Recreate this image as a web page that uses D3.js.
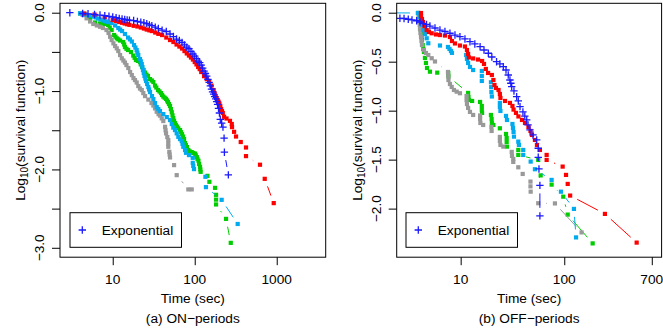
<!DOCTYPE html>
<html>
<head>
<meta charset="utf-8">
<script src="https://cdn.jsdelivr.net/npm/d3@7"></script>
<style>
  body { margin: 0; background: #fff; }
  text { font-family: "Liberation Sans", Arial, sans-serif; }
</style>
</head>
<body>
<script>

// (a) ON-periods
var onBlue = [[3,0],[4.3,-0.01],[5,-0.014],[6,-0.022],[7,-0.03],[8,-0.038],[9,-0.046],[10,-0.055],[11,-0.064],[12,-0.073],[13,-0.08],[14,-0.087],[15,-0.092],[16,-0.096],[18,-0.10],[20,-0.112],[22,-0.121],[24,-0.129],[26,-0.14],[28,-0.155],[30,-0.166],[33,-0.184],[36,-0.202],[40,-0.222],[45,-0.24],[50,-0.272],[55,-0.304],[60,-0.336],[65,-0.355],[70,-0.38],[75,-0.41],[80,-0.44],[85,-0.46],[90,-0.495],[95,-0.527],[100,-0.553],[105,-0.585],[110,-0.617],[115,-0.636],[120,-0.668],[125,-0.706],[130,-0.745],[135,-0.776],[140,-0.81],[145,-0.85],[150,-0.89],[155,-0.935],[160,-0.975],[165,-1.01],[170,-1.04],[175,-1.07],[180,-1.10],[185,-1.135],[190,-1.17],[195,-1.22],[200,-1.28],[205,-1.36],[213,-1.41],[221,-1.46],[228,-1.60],[230,-1.78],[257,-2.07]];
var onRed = [[4.5,-0.01],[6,-0.023],[8,-0.055],[10,-0.093],[11,-0.106],[12,-0.119],[13,-0.128],[14,-0.138],[15,-0.147],[16,-0.155],[18,-0.167],[20,-0.176],[22,-0.189],[24,-0.202],[26,-0.215],[28,-0.225],[30,-0.234],[33,-0.253],[36,-0.27],[40,-0.285],[45,-0.317],[50,-0.349],[55,-0.374],[60,-0.406],[65,-0.432],[70,-0.457],[75,-0.49],[80,-0.52],[85,-0.547],[90,-0.572],[95,-0.598],[100,-0.63],[105,-0.66],[110,-0.693],[115,-0.72],[120,-0.757],[130,-0.81],[140,-0.847],[150,-0.885],[160,-0.93],[170,-0.987],[175,-1.03],[180,-1.064],[185,-1.09],[190,-1.115],[195,-1.135],[200,-1.157],[205,-1.19],[210,-1.23],[215,-1.255],[220,-1.28],[228,-1.328],[244,-1.35],[269,-1.38],[283,-1.42],[285,-1.46],[302,-1.52],[319,-1.58],[364,-1.65],[422,-1.72],[422,-1.83],[625,-1.94],[714,-2.12],[919,-2.43]];
var onGreen = [[4.0,-0.01],[4.6,-0.029],[5.3,-0.074],[6.1,-0.125],[7.0,-0.138],[7.5,-0.14],[8.1,-0.144],[8.8,-0.157],[9.2,-0.19],[9.7,-0.221],[10.4,-0.285],[10.8,-0.305],[11.2,-0.327],[11.7,-0.34],[12.3,-0.355],[13.4,-0.374],[13.8,-0.405],[14.1,-0.438],[14.7,-0.46],[15.4,-0.476],[16.7,-0.502],[17.8,-0.547],[18.5,-0.575],[19.2,-0.604],[20.3,-0.615],[21.5,-0.63],[22,-0.66],[22.8,-0.693],[23.8,-0.73],[24.8,-0.764],[25.8,-0.79],[26.9,-0.808],[28.5,-0.847],[30,-0.865],[31.3,-0.885],[32.8,-0.93],[34,-0.955],[35.7,-0.987],[37.2,-1.005],[38.8,-1.026],[40,-1.05],[41.4,-1.07],[43,-1.085],[44.7,-1.10],[46,-1.12],[47.2,-1.14],[48.5,-1.165],[50.0,-1.19],[51.2,-1.23],[52.5,-1.27],[53.6,-1.31],[54.8,-1.345],[56,-1.38],[57.5,-1.41],[59,-1.435],[60.8,-1.453],[63,-1.475],[66.2,-1.498],[68,-1.525],[70.0,-1.55],[72,-1.58],[74.1,-1.613],[76.2,-1.664],[78,-1.69],[80.5,-1.715],[83.6,-1.753],[87,-1.77],[91.9,-1.779],[96,-1.79],[101,-1.798],[103,-1.82],[106,-1.843],[108,-1.865],[111,-1.888],[113,-1.93],[116,-1.967],[117,-2.0],[118,-2.031],[143,-2.082],[151,-2.158],[177,-2.235],[182,-2.324],[182,-2.385],[182,-2.447],[241,-2.631],[275,-2.937]];
var onCyan = [[4.0,-0.008],[4.35,-0.015],[4.7,-0.023],[5.2,-0.035],[5.8,-0.049],[6.2,-0.06],[6.6,-0.074],[7.1,-0.087],[7.7,-0.10],[8.2,-0.11],[8.8,-0.119],[9.7,-0.132],[10.7,-0.163],[11.7,-0.195],[12.3,-0.215],[13.0,-0.234],[14.1,-0.272],[15.4,-0.317],[16.2,-0.34],[17.1,-0.368],[18.2,-0.413],[18.9,-0.445],[19.6,-0.476],[20,-0.51],[20.5,-0.54],[21.5,-0.591],[22,-0.62],[22.6,-0.655],[23,-0.695],[23.4,-0.732],[23.9,-0.77],[24.4,-0.808],[25,-0.84],[25.5,-0.872],[26.3,-0.91],[27.2,-0.949],[27.8,-0.98],[28.5,-1.013],[30.1,-1.064],[31.3,-1.102],[32.8,-1.153],[34.4,-1.204],[36,-1.23],[37.7,-1.255],[41.4,-1.294],[45.6,-1.332],[50.0,-1.37],[52.5,-1.421],[54.8,-1.466],[57.5,-1.498],[60.3,-1.54],[63.1,-1.584],[66.2,-1.613],[69.4,-1.639],[71,-1.675],[72.6,-1.711],[76.2,-1.753],[78.3,-1.788],[85.1,-1.817],[94.6,-1.852],[94.6,-1.916],[96,-1.955],[98.0,-1.996],[135,-2.094],[137,-2.226],[213,-2.388],[334,-2.696]];
var onGray = [[4.0,-0.008],[4.3,-0.029],[4.8,-0.072],[5.3,-0.112],[5.8,-0.144],[6.4,-0.163],[7.0,-0.179],[7.6,-0.195],[8.4,-0.221],[8.9,-0.259],[9.3,-0.307],[9.7,-0.349],[10.2,-0.391],[10.7,-0.425],[11.2,-0.455],[11.7,-0.489],[12.3,-0.54],[12.9,-0.582],[13.5,-0.61],[14.1,-0.636],[14.7,-0.668],[15.5,-0.706],[16.3,-0.757],[17.1,-0.796],[17.9,-0.834],[18.7,-0.86],[19.6,-0.891],[20.5,-0.936],[21.5,-0.968],[22.6,-0.987],[23.6,-1.026],[24.8,-1.064],[27.2,-1.109],[29.7,-1.153],[31.3,-1.185],[32.8,-1.221],[34.4,-1.264],[36.2,-1.294],[37.7,-1.313],[39.6,-1.349],[41.4,-1.383],[43.5,-1.456],[44.1,-1.50],[44.7,-1.54],[46.3,-1.587],[47.6,-1.626],[47.6,-1.67],[47.6,-1.711],[49.0,-1.775],[49.5,-1.81],[50.0,-1.847],[56.0,-1.945],[60.3,-2.073],[83.6,-2.255],[91.9,-2.255]];

// (b) OFF-periods
var offBlue = [[2.59,-0.057],[2.84,-0.059],[3.12,-0.067],[3.39,-0.074],[3.76,-0.082],[4.05,-0.095],[4.35,-0.108],[4.68,-0.12],[5.05,-0.136],[5.65,-0.156],[6.31,-0.177],[7.05,-0.192],[7.88,-0.21],[8.81,-0.228],[9.84,-0.245],[11.0,-0.268],[12.3,-0.296],[13.7,-0.319],[15.4,-0.347],[16.8,-0.381],[18.5,-0.414],[20.0,-0.452],[22.2,-0.50],[23.9,-0.523],[25.8,-0.551],[27.4,-0.585],[28.8,-0.636],[29.9,-0.687],[30.5,-0.72],[31.1,-0.755],[32.7,-0.799],[34.7,-0.857],[36.0,-0.901],[37.4,-0.959],[39.9,-1.013],[41.6,-1.055],[43.4,-1.095],[44.7,-1.146],[46.7,-1.197],[49.9,-1.248],[54.2,-1.299],[56.1,-1.384],[56.1,-1.476],[57.0,-1.595],[58.2,-1.763],[58.2,-2.074]];
var offRed = [[4.14,-0.003],[4.14,-0.034],[4.23,-0.064],[4.32,-0.095],[4.47,-0.136],[4.70,-0.177],[4.94,-0.197],[5.25,-0.21],[5.78,-0.222],[6.31,-0.228],[7.05,-0.233],[7.88,-0.248],[8.24,-0.289],[8.81,-0.314],[9.84,-0.335],[11.0,-0.345],[11.5,-0.381],[11.8,-0.421],[12.0,-0.457],[13.2,-0.467],[14.7,-0.478],[16.1,-0.493],[16.8,-0.523],[17.5,-0.574],[18.4,-0.615],[20.0,-0.636],[20.7,-0.687],[21.2,-0.738],[21.9,-0.768],[23.2,-0.789],[23.9,-0.83],[24.2,-0.87],[26.8,-0.901],[29.9,-0.921],[31.6,-0.952],[32.4,-0.989],[34.2,-1.023],[36.1,-1.059],[39.1,-1.095],[41.8,-1.126],[45.1,-1.166],[47.2,-1.207],[48.8,-1.248],[52.1,-1.299],[54.5,-1.35],[58.2,-1.401],[67.6,-1.452],[67.6,-1.503],[96.5,-1.571],[104,-1.656],[108,-1.748],[114,-1.867],[247,-2.054],[500,-2.347]];
var offGreen = [[3.87,-0.003],[3.95,-0.05],[4.0,-0.09],[4.05,-0.126],[4.1,-0.17],[4.15,-0.21],[4.2,-0.25],[4.23,-0.279],[4.3,-0.33],[4.36,-0.37],[4.42,-0.401],[4.52,-0.462],[4.62,-0.513],[4.73,-0.564],[5.05,-0.602],[5.94,-0.612],[7.59,-0.615],[7.62,-0.651],[11.8,-0.819],[11.9,-0.86],[12.0,-0.891],[12.9,-0.901],[15.4,-0.911],[16.0,-0.952],[16.0,-0.993],[16.1,-1.023],[19.6,-1.044],[19.9,-1.085],[20.0,-1.126],[20.7,-1.146],[23.9,-1.18],[27.4,-1.238],[27.8,-1.279],[27.8,-1.319],[28.0,-1.367],[36.0,-1.401],[36.0,-1.452],[56.1,-1.503],[59.2,-1.661],[75.5,-1.755],[97.8,-1.878],[108,-2.061],[188,-2.355]];
var offCyan = [[1.0,0],[3.87,-0.003],[4.05,-0.044],[4.14,-0.085],[4.23,-0.126],[4.38,-0.177],[4.52,-0.217],[4.70,-0.261],[4.87,-0.312],[6.31,-0.335],[7.54,-0.35],[7.80,-0.37],[8.06,-0.39],[8.24,-0.41],[11.3,-0.432],[11.5,-0.472],[11.8,-0.513],[12.3,-0.554],[13.2,-0.585],[16.0,-0.595],[16.0,-0.646],[16.0,-0.697],[19.6,-0.71],[19.7,-0.76],[19.8,-0.81],[20.0,-0.855],[23.9,-0.921],[23.9,-0.962],[24.2,-1.003],[27.4,-1.054],[28.0,-1.095],[31.6,-1.136],[32.0,-1.176],[32.4,-1.217],[32.7,-1.265],[36.0,-1.316],[36.5,-1.35],[40.2,-1.401],[40.2,-1.452],[47.4,-1.52],[52.1,-1.598],[75.5,-1.707],[92.9,-1.827],[124,-2.003],[130,-2.294]];
var offGray = [[3.90,-0.003],[3.94,-0.044],[3.99,-0.085],[4.03,-0.126],[4.05,-0.166],[4.09,-0.207],[4.14,-0.248],[4.19,-0.289],[4.23,-0.33],[4.42,-0.381],[4.62,-0.411],[4.87,-0.432],[5.25,-0.465],[5.65,-0.498],[7.54,-0.605],[7.59,-0.646],[7.62,-0.687],[7.88,-0.728],[8.19,-0.758],[8.61,-0.789],[9.15,-0.806],[9.84,-0.822],[11.4,-0.85],[11.4,-0.891],[11.5,-0.932],[11.8,-0.972],[12.3,-1.013],[13.2,-1.044],[15.4,-1.049],[15.4,-1.085],[15.5,-1.126],[16.5,-1.146],[19.8,-1.166],[19.9,-1.207],[23.9,-1.268],[23.9,-1.309],[24.2,-1.35],[25.8,-1.367],[31.1,-1.421],[31.3,-1.462],[32.2,-1.493],[32.2,-1.523],[36.0,-1.578],[39.7,-1.646],[47.2,-1.724],[47.2,-1.773],[47.4,-1.827],[56.1,-1.945],[81.3,-1.947],[147,-2.243]];

var onTicksX = [10, 100, 1000];
var offTicksX = [10, 100, 700];
var onTicksY = [0, -0.5, -1, -1.5, -2, -2.5, -3];
var onLabelsY = [0, -1, -2, -3];
var offTicksY = [0, -0.5, -1, -1.5, -2];
var offLabelsY = [0, -0.5, -1, -1.5, -2];

var width = 663, height = 336;
var fs = 13.7;
var gap = 8;   // type="b" gap around each point

var svg = d3.select("body").append("svg")
    .attr("width", width)
    .attr("height", height);

function minus(s) { return s.replace("-", "\u2212"); }

function drawPanel(p) {
  var g = svg.append("g");
  var b = p.box;   // [left, right, top, bottom]

  // R pads the limits by 4% on each side
  var lx = Math.log10(p.xlim[0]), hx = Math.log10(p.xlim[1]), dx = 0.04 * (hx - lx);
  var x = d3.scaleLog()
      .domain([Math.pow(10, lx - dx), Math.pow(10, hx + dx)])
      .range([b[0], b[1]]);
  var dy = 0.04 * (p.ylim[1] - p.ylim[0]);
  var y = d3.scaleLinear()
      .domain([p.ylim[0] - dy, p.ylim[1] + dy])
      .range([b[3], b[2]]);

  g.append("clipPath")
      .attr("id", p.id)
    .append("rect")
      .attr("x", b[0]).attr("y", b[2])
      .attr("width", b[1] - b[0]).attr("height", b[3] - b[2]);

  var plot = g.append("g").attr("clip-path", "url(#" + p.id + ")");

  p.series.forEach(function(s) {
    var pts = s.data.map(function(d) { return [x(d[0]), y(d[1])]; });
    var segs = [];
    for (var i = 1; i < pts.length; i++) {
      var a = pts[i - 1], c = pts[i];
      var len = Math.hypot(c[0] - a[0], c[1] - a[1]);
      if (len <= 2 * gap) continue;
      var ux = (c[0] - a[0]) / len, uy = (c[1] - a[1]) / len;
      segs.push([a[0] + ux * gap, a[1] + uy * gap, c[0] - ux * gap, c[1] - uy * gap]);
    }
    plot.append("g").selectAll("line")
        .data(segs)
      .enter().append("line")
        .attr("x1", function(d) { return d[0]; })
        .attr("y1", function(d) { return d[1]; })
        .attr("x2", function(d) { return d[2]; })
        .attr("y2", function(d) { return d[3]; })
        .attr("stroke", s.color)
        .attr("stroke-width", 1);

    if (s.pch === "cross") {
      plot.append("g").selectAll("path")
          .data(pts)
        .enter().append("path")
          .attr("d", function(d) {
            return "M" + (d[0] - 3.7) + "," + d[1] + "h7.4M" + d[0] + "," + (d[1] - 3.7) + "v7.4";
          })
          .attr("stroke", s.color)
          .attr("stroke-width", 1.3)
          .attr("fill", "none");
    } else {
      plot.append("g").selectAll("rect")
          .data(pts)
        .enter().append("rect")
          .attr("x", function(d) { return d[0] - 2.1; })
          .attr("y", function(d) { return d[1] - 2.1; })
          .attr("width", 4.2)
          .attr("height", 4.2)
          .attr("fill", s.color);
    }
  });

  // box
  g.append("rect")
      .attr("x", b[0]).attr("y", b[2])
      .attr("width", b[1] - b[0]).attr("height", b[3] - b[2])
      .attr("fill", "none")
      .attr("stroke", "#000")
      .attr("stroke-width", 1);

  // x axis
  g.append("g")
      .attr("transform", "translate(0," + b[3] + ")")
      .call(d3.axisBottom(x).tickValues(p.ticksX).tickFormat("").tickSizeInner(8).tickSizeOuter(0))
      .call(function(a) { a.select(".domain").remove(); a.selectAll("line").attr("stroke", "#000"); });
  g.append("g").selectAll("text")
      .data(p.ticksX)
    .enter().append("text")
      .attr("x", function(d) { return x(d); })
      .attr("y", 283.5)
      .attr("text-anchor", "middle")
      .style("font-size", fs + "px")
      .text(function(d) { return d; });

  // y axis
  g.append("g")
      .attr("transform", "translate(" + b[0] + ",0)")
      .call(d3.axisLeft(y).tickValues(p.ticksY).tickFormat("").tickSizeInner(8).tickSizeOuter(0))
      .call(function(a) { a.select(".domain").remove(); a.selectAll("line").attr("stroke", "#000"); });
  g.append("g").selectAll("text")
      .data(p.labelsY)
    .enter().append("text")
      .attr("transform", function(d) { return "translate(" + (b[0] - 16.2) + "," + y(d) + ") rotate(-90)"; })
      .attr("text-anchor", "middle")
      .style("font-size", fs + "px")
      .text(function(d) { return minus(d.toFixed(1)); });

  // axis titles
  var cx = (b[0] + b[1]) / 2;
  g.append("text")
      .attr("x", cx).attr("y", 303)
      .attr("text-anchor", "middle")
      .style("font-size", fs + "px")
      .text("Time (sec)");
  g.append("text")
      .attr("x", cx).attr("y", 323)
      .attr("text-anchor", "middle")
      .style("font-size", fs + "px")
      .text(p.caption);

  var yl = g.append("text")
      .attr("transform", "translate(" + (b[0] - 34.8) + "," + ((b[2] + b[3]) / 2) + ") rotate(-90)")
      .attr("text-anchor", "middle")
      .style("font-size", fs + "px");
  yl.append("tspan").text("Log");
  yl.append("tspan").attr("dy", 3).style("font-size", "10px").text("10");
  yl.append("tspan").attr("dy", -3).text("(survival function)");

  // legend
  var lg = g.append("g").attr("transform", "translate(" + (b[0] + p.legendDx) + ",212.7)");
  lg.append("rect")
      .attr("width", 111.5).attr("height", 34.6)
      .attr("fill", "#fff").attr("stroke", "#000").attr("stroke-width", 1);
  lg.append("path")
      .attr("d", "M8.6,17.3h7.4M12.3,13.6v7.4")
      .attr("stroke", blue).attr("stroke-width", 1.3);
  lg.append("text")
      .attr("x", 31.7).attr("y", 22.2)
      .style("font-size", fs + "px")
      .text("Exponential");
}

var green = "#00cd00", gray = "#999999", cyan = "#00aaee", red = "#ff0000", blue = "#1a1aff";

drawPanel({
  id: "clipOn",
  box: [60, 325.7, 3.3, 257.2],
  xlim: [3, 3000], ylim: [-3, 0],
  ticksX: onTicksX, ticksY: onTicksY, labelsY: onLabelsY,
  caption: "(a) ON\u2212periods",
  legendDx: 10,
  series: [
    {data: onGreen, color: green, pch: "sq"},
    {data: onGray, color: gray, pch: "sq"},
    {data: onCyan, color: cyan, pch: "sq"},
    {data: onRed, color: red, pch: "sq"},
    {data: onBlue, color: blue, pch: "cross"}
  ]
});

drawPanel({
  id: "clipOff",
  box: [396.7, 661.6, 3.3, 257.2],
  xlim: [3, 700], ylim: [-2.4, 0],
  ticksX: offTicksX, ticksY: offTicksY, labelsY: offLabelsY,
  caption: "(b) OFF\u2212periods",
  legendDx: 9.3,
  series: [
    {data: offGreen, color: green, pch: "sq"},
    {data: offGray, color: gray, pch: "sq"},
    {data: offCyan, color: cyan, pch: "sq"},
    {data: offRed, color: red, pch: "sq"},
    {data: offBlue, color: blue, pch: "cross"}
  ]
});
</script>
</body>
</html>
